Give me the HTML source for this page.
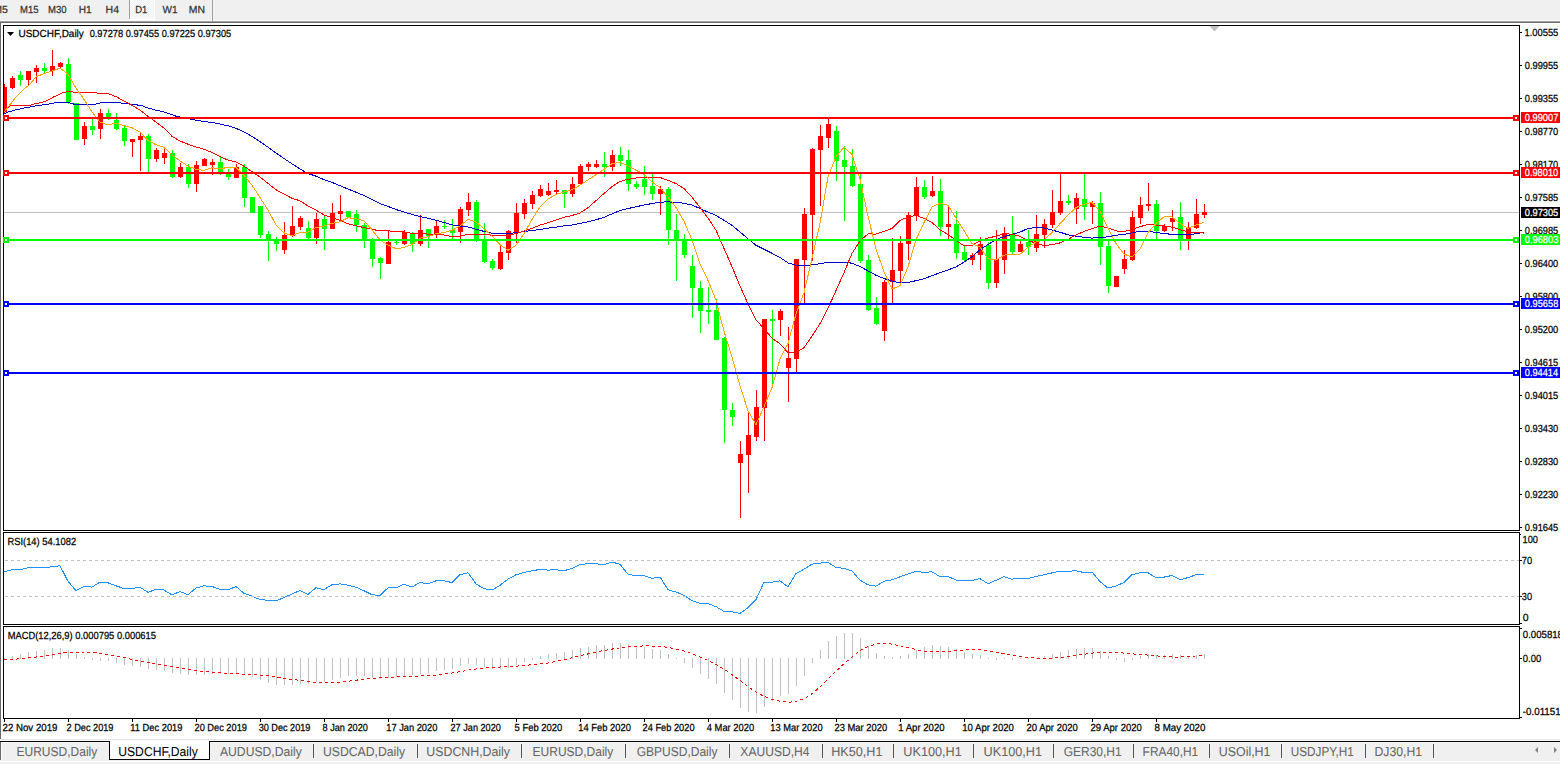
<!DOCTYPE html>
<html><head><meta charset="utf-8"><style>
html,body{margin:0;padding:0;background:#fff;width:1560px;height:764px;overflow:hidden}
svg{display:block}
text{font-family:"Liberation Sans",sans-serif;text-rendering:geometricPrecision}
</style></head><body>
<svg width="1560" height="764" viewBox="0 0 1560 764" font-family='"Liberation Sans", sans-serif'>
<defs><pattern id="chk" x="0" y="0" width="2" height="2" patternUnits="userSpaceOnUse"><rect width="2" height="2" fill="#f0f0f0"/><rect width="1" height="1" fill="#fdfdfd"/><rect x="1" y="1" width="1" height="1" fill="#fdfdfd"/></pattern></defs>
<rect x="0" y="0" width="1560" height="764" fill="#fff"/>
<rect x="0" y="0" width="1560" height="20" fill="#f0f0f0"/>
<rect x="0" y="20" width="1560" height="1" fill="#f6f6f6"/>
<rect x="0" y="21" width="1560" height="1" fill="#a3a3a3"/>
<rect x="0" y="22" width="1560" height="1" fill="#6a6a6a"/>
<rect x="130" y="0" width="24" height="19" fill="url(#chk)"/>
<rect x="129" y="0" width="1" height="19" fill="#a0a0a0"/>
<rect x="154" y="0" width="1" height="20" fill="#ffffff"/>
<rect x="129" y="19" width="26" height="1" fill="#ffffff"/>
<rect x="212" y="0" width="1" height="21" fill="#a0a0a0"/>
<text x="-6.86" y="13" font-size="10.3" fill="#333" stroke="#333" stroke-width="0.25" textLength="14.60" lengthAdjust="spacingAndGlyphs">M5</text>
<text x="20.02" y="13" font-size="10.3" fill="#333" stroke="#333" stroke-width="0.25" textLength="18.48" lengthAdjust="spacingAndGlyphs">M15</text>
<text x="48.02" y="13" font-size="10.3" fill="#333" stroke="#333" stroke-width="0.25" textLength="18.56" lengthAdjust="spacingAndGlyphs">M30</text>
<text x="78.77" y="13" font-size="10.3" fill="#333" stroke="#333" stroke-width="0.25" textLength="12.92" lengthAdjust="spacingAndGlyphs">H1</text>
<text x="105.64" y="13" font-size="10.3" fill="#333" stroke="#333" stroke-width="0.25" textLength="13.47" lengthAdjust="spacingAndGlyphs">H4</text>
<text x="135.22" y="13" font-size="10.3" fill="#333" stroke="#333" stroke-width="0.25" textLength="12.14" lengthAdjust="spacingAndGlyphs">D1</text>
<text x="162.46" y="13" font-size="10.3" fill="#333" stroke="#333" stroke-width="0.25" textLength="15.03" lengthAdjust="spacingAndGlyphs">W1</text>
<text x="188.85" y="13" font-size="10.3" fill="#333" stroke="#333" stroke-width="0.25" textLength="16.20" lengthAdjust="spacingAndGlyphs">MN</text>
<rect x="0" y="23" width="1" height="716" fill="#6a6a6a"/>
<rect x="1" y="23" width="1" height="716" fill="#ffffff"/>
<rect x="3" y="25" width="1517" height="1" fill="#000"/>
<rect x="3" y="530" width="1517" height="1" fill="#000"/>
<rect x="3" y="25" width="1" height="506" fill="#000"/>
<rect x="1519" y="25" width="1" height="506" fill="#000"/>
<rect x="3" y="532" width="1517" height="1" fill="#000"/>
<rect x="3" y="624" width="1517" height="1" fill="#000"/>
<rect x="3" y="532" width="1" height="93" fill="#000"/>
<rect x="1519" y="532" width="1" height="93" fill="#000"/>
<rect x="3" y="626" width="1517" height="1" fill="#000"/>
<rect x="3" y="718" width="1517" height="1" fill="#000"/>
<rect x="3" y="626" width="1" height="93" fill="#000"/>
<rect x="1519" y="626" width="1" height="93" fill="#000"/>
<rect x="1520" y="32" width="2" height="1" fill="#000"/>
<text x="1524.49" y="36" font-size="10.3" fill="#000" stroke="#000" stroke-width="0.25" textLength="33.81" lengthAdjust="spacingAndGlyphs">1.00555</text>
<rect x="1520" y="65" width="2" height="1" fill="#000"/>
<text x="1524.84" y="69" font-size="10.3" fill="#000" stroke="#000" stroke-width="0.25" textLength="33.45" lengthAdjust="spacingAndGlyphs">0.99955</text>
<rect x="1520" y="98" width="2" height="1" fill="#000"/>
<text x="1524.84" y="102" font-size="10.3" fill="#000" stroke="#000" stroke-width="0.25" textLength="33.45" lengthAdjust="spacingAndGlyphs">0.99355</text>
<rect x="1520" y="131" width="2" height="1" fill="#000"/>
<text x="1524.84" y="135" font-size="10.3" fill="#000" stroke="#000" stroke-width="0.25" textLength="33.42" lengthAdjust="spacingAndGlyphs">0.98770</text>
<rect x="1520" y="164" width="2" height="1" fill="#000"/>
<text x="1524.84" y="168" font-size="10.3" fill="#000" stroke="#000" stroke-width="0.25" textLength="33.42" lengthAdjust="spacingAndGlyphs">0.98170</text>
<rect x="1520" y="197" width="2" height="1" fill="#000"/>
<text x="1524.84" y="201" font-size="10.3" fill="#000" stroke="#000" stroke-width="0.25" textLength="33.45" lengthAdjust="spacingAndGlyphs">0.97585</text>
<rect x="1520" y="230" width="2" height="1" fill="#000"/>
<text x="1524.84" y="234" font-size="10.3" fill="#000" stroke="#000" stroke-width="0.25" textLength="33.45" lengthAdjust="spacingAndGlyphs">0.96985</text>
<rect x="1520" y="263" width="2" height="1" fill="#000"/>
<text x="1524.84" y="267" font-size="10.3" fill="#000" stroke="#000" stroke-width="0.25" textLength="33.42" lengthAdjust="spacingAndGlyphs">0.96400</text>
<rect x="1520" y="296" width="2" height="1" fill="#000"/>
<text x="1524.84" y="300" font-size="10.3" fill="#000" stroke="#000" stroke-width="0.25" textLength="33.42" lengthAdjust="spacingAndGlyphs">0.95800</text>
<rect x="1520" y="329" width="2" height="1" fill="#000"/>
<text x="1524.84" y="333" font-size="10.3" fill="#000" stroke="#000" stroke-width="0.25" textLength="33.42" lengthAdjust="spacingAndGlyphs">0.95200</text>
<rect x="1520" y="362" width="2" height="1" fill="#000"/>
<text x="1524.84" y="366" font-size="10.3" fill="#000" stroke="#000" stroke-width="0.25" textLength="33.45" lengthAdjust="spacingAndGlyphs">0.94615</text>
<rect x="1520" y="395" width="2" height="1" fill="#000"/>
<text x="1524.84" y="399" font-size="10.3" fill="#000" stroke="#000" stroke-width="0.25" textLength="33.45" lengthAdjust="spacingAndGlyphs">0.94015</text>
<rect x="1520" y="428" width="2" height="1" fill="#000"/>
<text x="1524.84" y="432" font-size="10.3" fill="#000" stroke="#000" stroke-width="0.25" textLength="33.42" lengthAdjust="spacingAndGlyphs">0.93430</text>
<rect x="1520" y="461" width="2" height="1" fill="#000"/>
<text x="1524.84" y="465" font-size="10.3" fill="#000" stroke="#000" stroke-width="0.25" textLength="33.42" lengthAdjust="spacingAndGlyphs">0.92830</text>
<rect x="1520" y="494" width="2" height="1" fill="#000"/>
<text x="1524.84" y="498" font-size="10.3" fill="#000" stroke="#000" stroke-width="0.25" textLength="33.42" lengthAdjust="spacingAndGlyphs">0.92230</text>
<rect x="1520" y="527" width="2" height="1" fill="#000"/>
<text x="1524.84" y="531" font-size="10.3" fill="#000" stroke="#000" stroke-width="0.25" textLength="33.45" lengthAdjust="spacingAndGlyphs">0.91645</text>
<rect x="4" y="212" width="1515" height="1" fill="#c0c0c0"/>
<rect x="1521" y="207" width="39" height="11" fill="#000"/>
<text x="1524.74" y="216" font-size="10.3" fill="#fff" stroke="#fff" stroke-width="0.25" textLength="33.55" lengthAdjust="spacingAndGlyphs">0.97305</text>
<g shape-rendering="crispEdges">
<rect x="4" y="84" width="1" height="29" fill="#ff0000"/>
<rect x="4" y="87" width="3" height="25" fill="#ff0000"/>
<rect x="12" y="76" width="1" height="13" fill="#ff0000"/>
<rect x="10" y="78" width="5" height="10" fill="#ff0000"/>
<rect x="20" y="71" width="1" height="15" fill="#00ff00"/>
<rect x="18" y="75" width="5" height="5" fill="#00ff00"/>
<rect x="28" y="71" width="1" height="15" fill="#ff0000"/>
<rect x="26" y="71" width="5" height="9" fill="#ff0000"/>
<rect x="36" y="65" width="1" height="18" fill="#ff0000"/>
<rect x="34" y="68" width="5" height="4" fill="#ff0000"/>
<rect x="44" y="63" width="1" height="11" fill="#00ff00"/>
<rect x="42" y="68" width="5" height="3" fill="#00ff00"/>
<rect x="52" y="50" width="1" height="26" fill="#ff0000"/>
<rect x="50" y="66" width="5" height="5" fill="#ff0000"/>
<rect x="60" y="62" width="1" height="6" fill="#ff0000"/>
<rect x="58" y="63" width="5" height="4" fill="#ff0000"/>
<rect x="68" y="58" width="1" height="46" fill="#00ff00"/>
<rect x="66" y="64" width="5" height="38" fill="#00ff00"/>
<rect x="76" y="103" width="1" height="37" fill="#00ff00"/>
<rect x="74" y="103" width="5" height="37" fill="#00ff00"/>
<rect x="84" y="122" width="1" height="23" fill="#ff0000"/>
<rect x="82" y="126" width="5" height="13" fill="#ff0000"/>
<rect x="92" y="119" width="1" height="16" fill="#00ff00"/>
<rect x="90" y="126" width="5" height="4" fill="#00ff00"/>
<rect x="100" y="109" width="1" height="30" fill="#ff0000"/>
<rect x="98" y="113" width="5" height="16" fill="#ff0000"/>
<rect x="108" y="109" width="1" height="11" fill="#00ff00"/>
<rect x="106" y="113" width="5" height="5" fill="#00ff00"/>
<rect x="116" y="113" width="1" height="17" fill="#00ff00"/>
<rect x="114" y="120" width="5" height="9" fill="#00ff00"/>
<rect x="124" y="125" width="1" height="21" fill="#00ff00"/>
<rect x="122" y="128" width="5" height="13" fill="#00ff00"/>
<rect x="132" y="139" width="1" height="18" fill="#ff0000"/>
<rect x="130" y="139" width="5" height="3" fill="#ff0000"/>
<rect x="140" y="132" width="1" height="39" fill="#ff0000"/>
<rect x="138" y="136" width="5" height="4" fill="#ff0000"/>
<rect x="148" y="134" width="1" height="38" fill="#00ff00"/>
<rect x="146" y="136" width="5" height="23" fill="#00ff00"/>
<rect x="156" y="148" width="1" height="14" fill="#ff0000"/>
<rect x="154" y="150" width="5" height="9" fill="#ff0000"/>
<rect x="164" y="148" width="1" height="16" fill="#ff0000"/>
<rect x="162" y="153" width="5" height="5" fill="#ff0000"/>
<rect x="172" y="150" width="1" height="28" fill="#00ff00"/>
<rect x="170" y="153" width="5" height="24" fill="#00ff00"/>
<rect x="180" y="163" width="1" height="15" fill="#ff0000"/>
<rect x="178" y="167" width="5" height="10" fill="#ff0000"/>
<rect x="188" y="164" width="1" height="24" fill="#00ff00"/>
<rect x="186" y="167" width="5" height="17" fill="#00ff00"/>
<rect x="196" y="161" width="1" height="31" fill="#ff0000"/>
<rect x="194" y="165" width="5" height="19" fill="#ff0000"/>
<rect x="204" y="158" width="1" height="8" fill="#ff0000"/>
<rect x="202" y="159" width="5" height="7" fill="#ff0000"/>
<rect x="212" y="159" width="1" height="16" fill="#ff0000"/>
<rect x="210" y="162" width="5" height="3" fill="#ff0000"/>
<rect x="220" y="157" width="1" height="18" fill="#00ff00"/>
<rect x="218" y="162" width="5" height="12" fill="#00ff00"/>
<rect x="228" y="169" width="1" height="11" fill="#00ff00"/>
<rect x="226" y="174" width="5" height="3" fill="#00ff00"/>
<rect x="236" y="164" width="1" height="14" fill="#ff0000"/>
<rect x="234" y="167" width="5" height="11" fill="#ff0000"/>
<rect x="244" y="164" width="1" height="43" fill="#00ff00"/>
<rect x="242" y="167" width="5" height="31" fill="#00ff00"/>
<rect x="252" y="197" width="1" height="16" fill="#00ff00"/>
<rect x="250" y="197" width="5" height="16" fill="#00ff00"/>
<rect x="260" y="206" width="1" height="32" fill="#00ff00"/>
<rect x="258" y="206" width="5" height="29" fill="#00ff00"/>
<rect x="268" y="231" width="1" height="30" fill="#00ff00"/>
<rect x="266" y="234" width="5" height="6" fill="#00ff00"/>
<rect x="276" y="237" width="1" height="14" fill="#00ff00"/>
<rect x="274" y="239" width="5" height="5" fill="#00ff00"/>
<rect x="284" y="222" width="1" height="32" fill="#ff0000"/>
<rect x="282" y="235" width="5" height="15" fill="#ff0000"/>
<rect x="292" y="206" width="1" height="31" fill="#ff0000"/>
<rect x="290" y="226" width="5" height="10" fill="#ff0000"/>
<rect x="300" y="216" width="1" height="14" fill="#ff0000"/>
<rect x="298" y="218" width="5" height="9" fill="#ff0000"/>
<rect x="308" y="221" width="1" height="19" fill="#00ff00"/>
<rect x="306" y="228" width="5" height="10" fill="#00ff00"/>
<rect x="316" y="213" width="1" height="31" fill="#ff0000"/>
<rect x="314" y="219" width="5" height="19" fill="#ff0000"/>
<rect x="324" y="215" width="1" height="35" fill="#00ff00"/>
<rect x="322" y="219" width="5" height="10" fill="#00ff00"/>
<rect x="332" y="203" width="1" height="26" fill="#ff0000"/>
<rect x="330" y="213" width="5" height="16" fill="#ff0000"/>
<rect x="340" y="195" width="1" height="27" fill="#ff0000"/>
<rect x="338" y="211" width="5" height="3" fill="#ff0000"/>
<rect x="348" y="211" width="1" height="7" fill="#00ff00"/>
<rect x="346" y="211" width="5" height="6" fill="#00ff00"/>
<rect x="356" y="210" width="1" height="22" fill="#00ff00"/>
<rect x="354" y="214" width="5" height="11" fill="#00ff00"/>
<rect x="364" y="223" width="1" height="25" fill="#00ff00"/>
<rect x="362" y="225" width="5" height="15" fill="#00ff00"/>
<rect x="372" y="238" width="1" height="29" fill="#00ff00"/>
<rect x="370" y="240" width="5" height="19" fill="#00ff00"/>
<rect x="380" y="257" width="1" height="22" fill="#00ff00"/>
<rect x="378" y="258" width="5" height="5" fill="#00ff00"/>
<rect x="388" y="231" width="1" height="33" fill="#ff0000"/>
<rect x="386" y="242" width="5" height="22" fill="#ff0000"/>
<rect x="396" y="240" width="1" height="5" fill="#00ff00"/>
<rect x="394" y="242" width="5" height="1" fill="#00ff00"/>
<rect x="404" y="230" width="1" height="15" fill="#ff0000"/>
<rect x="402" y="232" width="5" height="12" fill="#ff0000"/>
<rect x="412" y="232" width="1" height="20" fill="#00ff00"/>
<rect x="410" y="234" width="5" height="10" fill="#00ff00"/>
<rect x="420" y="215" width="1" height="31" fill="#ff0000"/>
<rect x="418" y="230" width="5" height="14" fill="#ff0000"/>
<rect x="428" y="229" width="1" height="19" fill="#00ff00"/>
<rect x="426" y="229" width="5" height="7" fill="#00ff00"/>
<rect x="436" y="220" width="1" height="18" fill="#ff0000"/>
<rect x="434" y="226" width="5" height="9" fill="#ff0000"/>
<rect x="444" y="220" width="1" height="9" fill="#00ff00"/>
<rect x="442" y="226" width="5" height="1" fill="#00ff00"/>
<rect x="452" y="219" width="1" height="21" fill="#00ff00"/>
<rect x="450" y="230" width="5" height="3" fill="#00ff00"/>
<rect x="460" y="207" width="1" height="36" fill="#ff0000"/>
<rect x="458" y="209" width="5" height="23" fill="#ff0000"/>
<rect x="468" y="193" width="1" height="23" fill="#ff0000"/>
<rect x="466" y="202" width="5" height="8" fill="#ff0000"/>
<rect x="476" y="200" width="1" height="42" fill="#00ff00"/>
<rect x="474" y="202" width="5" height="38" fill="#00ff00"/>
<rect x="484" y="223" width="1" height="40" fill="#00ff00"/>
<rect x="482" y="240" width="5" height="22" fill="#00ff00"/>
<rect x="492" y="259" width="1" height="11" fill="#00ff00"/>
<rect x="490" y="261" width="5" height="7" fill="#00ff00"/>
<rect x="500" y="246" width="1" height="24" fill="#ff0000"/>
<rect x="498" y="252" width="5" height="17" fill="#ff0000"/>
<rect x="508" y="230" width="1" height="30" fill="#ff0000"/>
<rect x="506" y="231" width="5" height="22" fill="#ff0000"/>
<rect x="516" y="203" width="1" height="40" fill="#ff0000"/>
<rect x="514" y="213" width="5" height="19" fill="#ff0000"/>
<rect x="524" y="199" width="1" height="20" fill="#ff0000"/>
<rect x="522" y="203" width="5" height="11" fill="#ff0000"/>
<rect x="532" y="191" width="1" height="18" fill="#ff0000"/>
<rect x="530" y="195" width="5" height="9" fill="#ff0000"/>
<rect x="540" y="185" width="1" height="12" fill="#ff0000"/>
<rect x="538" y="189" width="5" height="7" fill="#ff0000"/>
<rect x="548" y="183" width="1" height="13" fill="#ff0000"/>
<rect x="546" y="191" width="5" height="4" fill="#ff0000"/>
<rect x="556" y="180" width="1" height="14" fill="#ff0000"/>
<rect x="554" y="190" width="5" height="2" fill="#ff0000"/>
<rect x="564" y="190" width="1" height="18" fill="#00ff00"/>
<rect x="562" y="190" width="5" height="4" fill="#00ff00"/>
<rect x="572" y="177" width="1" height="20" fill="#ff0000"/>
<rect x="570" y="184" width="5" height="10" fill="#ff0000"/>
<rect x="580" y="164" width="1" height="21" fill="#ff0000"/>
<rect x="578" y="166" width="5" height="18" fill="#ff0000"/>
<rect x="588" y="162" width="1" height="9" fill="#ff0000"/>
<rect x="586" y="164" width="5" height="3" fill="#ff0000"/>
<rect x="596" y="160" width="1" height="8" fill="#ff0000"/>
<rect x="594" y="164" width="5" height="3" fill="#ff0000"/>
<rect x="604" y="152" width="1" height="25" fill="#00ff00"/>
<rect x="602" y="164" width="5" height="3" fill="#00ff00"/>
<rect x="612" y="150" width="1" height="21" fill="#ff0000"/>
<rect x="610" y="155" width="5" height="12" fill="#ff0000"/>
<rect x="620" y="147" width="1" height="19" fill="#00ff00"/>
<rect x="618" y="155" width="5" height="6" fill="#00ff00"/>
<rect x="628" y="150" width="1" height="41" fill="#00ff00"/>
<rect x="626" y="160" width="5" height="24" fill="#00ff00"/>
<rect x="636" y="181" width="1" height="8" fill="#00ff00"/>
<rect x="634" y="184" width="5" height="3" fill="#00ff00"/>
<rect x="644" y="166" width="1" height="29" fill="#00ff00"/>
<rect x="642" y="179" width="5" height="8" fill="#00ff00"/>
<rect x="652" y="174" width="1" height="26" fill="#00ff00"/>
<rect x="650" y="186" width="5" height="8" fill="#00ff00"/>
<rect x="660" y="186" width="1" height="29" fill="#ff0000"/>
<rect x="658" y="189" width="5" height="5" fill="#ff0000"/>
<rect x="668" y="187" width="1" height="58" fill="#00ff00"/>
<rect x="666" y="189" width="5" height="41" fill="#00ff00"/>
<rect x="676" y="214" width="1" height="67" fill="#00ff00"/>
<rect x="674" y="230" width="5" height="10" fill="#00ff00"/>
<rect x="684" y="234" width="1" height="24" fill="#00ff00"/>
<rect x="682" y="240" width="5" height="15" fill="#00ff00"/>
<rect x="692" y="255" width="1" height="63" fill="#00ff00"/>
<rect x="690" y="266" width="5" height="22" fill="#00ff00"/>
<rect x="700" y="281" width="1" height="52" fill="#00ff00"/>
<rect x="698" y="288" width="5" height="23" fill="#00ff00"/>
<rect x="708" y="287" width="1" height="37" fill="#00ff00"/>
<rect x="706" y="310" width="5" height="2" fill="#00ff00"/>
<rect x="716" y="299" width="1" height="41" fill="#00ff00"/>
<rect x="714" y="310" width="5" height="30" fill="#00ff00"/>
<rect x="724" y="337" width="1" height="106" fill="#00ff00"/>
<rect x="722" y="338" width="5" height="72" fill="#00ff00"/>
<rect x="732" y="403" width="1" height="23" fill="#00ff00"/>
<rect x="730" y="410" width="5" height="7" fill="#00ff00"/>
<rect x="740" y="441" width="1" height="77" fill="#ff0000"/>
<rect x="738" y="454" width="5" height="9" fill="#ff0000"/>
<rect x="748" y="412" width="1" height="81" fill="#ff0000"/>
<rect x="746" y="435" width="5" height="20" fill="#ff0000"/>
<rect x="756" y="390" width="1" height="51" fill="#ff0000"/>
<rect x="754" y="407" width="5" height="30" fill="#ff0000"/>
<rect x="764" y="319" width="1" height="122" fill="#ff0000"/>
<rect x="762" y="319" width="5" height="89" fill="#ff0000"/>
<rect x="772" y="310" width="1" height="75" fill="#00ff00"/>
<rect x="770" y="319" width="5" height="2" fill="#00ff00"/>
<rect x="780" y="309" width="1" height="27" fill="#ff0000"/>
<rect x="778" y="311" width="5" height="9" fill="#ff0000"/>
<rect x="788" y="327" width="1" height="75" fill="#ff0000"/>
<rect x="786" y="358" width="5" height="10" fill="#ff0000"/>
<rect x="796" y="259" width="1" height="113" fill="#ff0000"/>
<rect x="794" y="259" width="5" height="100" fill="#ff0000"/>
<rect x="804" y="208" width="1" height="95" fill="#ff0000"/>
<rect x="802" y="214" width="5" height="46" fill="#ff0000"/>
<rect x="812" y="148" width="1" height="113" fill="#ff0000"/>
<rect x="810" y="149" width="5" height="66" fill="#ff0000"/>
<rect x="820" y="125" width="1" height="81" fill="#ff0000"/>
<rect x="818" y="136" width="5" height="14" fill="#ff0000"/>
<rect x="828" y="119" width="1" height="29" fill="#ff0000"/>
<rect x="826" y="124" width="5" height="14" fill="#ff0000"/>
<rect x="836" y="126" width="1" height="55" fill="#00ff00"/>
<rect x="834" y="131" width="5" height="30" fill="#00ff00"/>
<rect x="844" y="146" width="1" height="75" fill="#00ff00"/>
<rect x="842" y="160" width="5" height="7" fill="#00ff00"/>
<rect x="852" y="149" width="1" height="38" fill="#00ff00"/>
<rect x="850" y="166" width="5" height="20" fill="#00ff00"/>
<rect x="860" y="174" width="1" height="89" fill="#00ff00"/>
<rect x="858" y="184" width="5" height="77" fill="#00ff00"/>
<rect x="868" y="255" width="1" height="56" fill="#00ff00"/>
<rect x="866" y="260" width="5" height="50" fill="#00ff00"/>
<rect x="876" y="297" width="1" height="28" fill="#00ff00"/>
<rect x="874" y="308" width="5" height="16" fill="#00ff00"/>
<rect x="884" y="280" width="1" height="61" fill="#ff0000"/>
<rect x="882" y="282" width="5" height="49" fill="#ff0000"/>
<rect x="892" y="238" width="1" height="65" fill="#ff0000"/>
<rect x="890" y="270" width="5" height="12" fill="#ff0000"/>
<rect x="900" y="236" width="1" height="47" fill="#ff0000"/>
<rect x="898" y="243" width="5" height="28" fill="#ff0000"/>
<rect x="908" y="212" width="1" height="48" fill="#ff0000"/>
<rect x="906" y="215" width="5" height="29" fill="#ff0000"/>
<rect x="916" y="177" width="1" height="44" fill="#ff0000"/>
<rect x="914" y="187" width="5" height="29" fill="#ff0000"/>
<rect x="924" y="180" width="1" height="19" fill="#00ff00"/>
<rect x="922" y="187" width="5" height="10" fill="#00ff00"/>
<rect x="932" y="176" width="1" height="21" fill="#ff0000"/>
<rect x="930" y="191" width="5" height="5" fill="#ff0000"/>
<rect x="940" y="179" width="1" height="57" fill="#00ff00"/>
<rect x="938" y="191" width="5" height="36" fill="#00ff00"/>
<rect x="948" y="206" width="1" height="33" fill="#ff0000"/>
<rect x="946" y="224" width="5" height="3" fill="#ff0000"/>
<rect x="956" y="211" width="1" height="48" fill="#00ff00"/>
<rect x="954" y="224" width="5" height="29" fill="#00ff00"/>
<rect x="964" y="246" width="1" height="15" fill="#00ff00"/>
<rect x="962" y="252" width="5" height="8" fill="#00ff00"/>
<rect x="972" y="253" width="1" height="12" fill="#ff0000"/>
<rect x="970" y="255" width="5" height="5" fill="#ff0000"/>
<rect x="980" y="237" width="1" height="33" fill="#ff0000"/>
<rect x="978" y="244" width="5" height="11" fill="#ff0000"/>
<rect x="988" y="242" width="1" height="47" fill="#00ff00"/>
<rect x="986" y="245" width="5" height="38" fill="#00ff00"/>
<rect x="996" y="230" width="1" height="58" fill="#ff0000"/>
<rect x="994" y="259" width="5" height="24" fill="#ff0000"/>
<rect x="1004" y="227" width="1" height="47" fill="#ff0000"/>
<rect x="1002" y="233" width="5" height="27" fill="#ff0000"/>
<rect x="1012" y="216" width="1" height="38" fill="#00ff00"/>
<rect x="1010" y="235" width="5" height="17" fill="#00ff00"/>
<rect x="1020" y="241" width="1" height="11" fill="#ff0000"/>
<rect x="1018" y="244" width="5" height="8" fill="#ff0000"/>
<rect x="1028" y="230" width="1" height="25" fill="#00ff00"/>
<rect x="1026" y="242" width="5" height="5" fill="#00ff00"/>
<rect x="1036" y="215" width="1" height="37" fill="#ff0000"/>
<rect x="1034" y="234" width="5" height="14" fill="#ff0000"/>
<rect x="1044" y="219" width="1" height="29" fill="#ff0000"/>
<rect x="1042" y="224" width="5" height="11" fill="#ff0000"/>
<rect x="1052" y="190" width="1" height="38" fill="#ff0000"/>
<rect x="1050" y="212" width="5" height="13" fill="#ff0000"/>
<rect x="1060" y="174" width="1" height="41" fill="#ff0000"/>
<rect x="1058" y="201" width="5" height="12" fill="#ff0000"/>
<rect x="1068" y="195" width="1" height="10" fill="#00ff00"/>
<rect x="1066" y="201" width="5" height="2" fill="#00ff00"/>
<rect x="1076" y="193" width="1" height="31" fill="#ff0000"/>
<rect x="1074" y="198" width="5" height="11" fill="#ff0000"/>
<rect x="1084" y="174" width="1" height="46" fill="#00ff00"/>
<rect x="1082" y="199" width="5" height="8" fill="#00ff00"/>
<rect x="1092" y="201" width="1" height="23" fill="#ff0000"/>
<rect x="1090" y="203" width="5" height="4" fill="#ff0000"/>
<rect x="1100" y="192" width="1" height="73" fill="#00ff00"/>
<rect x="1098" y="203" width="5" height="44" fill="#00ff00"/>
<rect x="1108" y="241" width="1" height="52" fill="#00ff00"/>
<rect x="1106" y="246" width="5" height="40" fill="#00ff00"/>
<rect x="1116" y="276" width="1" height="11" fill="#ff0000"/>
<rect x="1114" y="276" width="5" height="11" fill="#ff0000"/>
<rect x="1124" y="250" width="1" height="24" fill="#ff0000"/>
<rect x="1122" y="259" width="5" height="10" fill="#ff0000"/>
<rect x="1132" y="211" width="1" height="50" fill="#ff0000"/>
<rect x="1130" y="217" width="5" height="43" fill="#ff0000"/>
<rect x="1140" y="197" width="1" height="27" fill="#ff0000"/>
<rect x="1138" y="205" width="5" height="13" fill="#ff0000"/>
<rect x="1148" y="183" width="1" height="28" fill="#ff0000"/>
<rect x="1146" y="204" width="5" height="2" fill="#ff0000"/>
<rect x="1156" y="200" width="1" height="39" fill="#00ff00"/>
<rect x="1154" y="204" width="5" height="27" fill="#00ff00"/>
<rect x="1164" y="224" width="1" height="8" fill="#ff0000"/>
<rect x="1162" y="226" width="5" height="5" fill="#ff0000"/>
<rect x="1172" y="210" width="1" height="21" fill="#ff0000"/>
<rect x="1170" y="218" width="5" height="4" fill="#ff0000"/>
<rect x="1180" y="202" width="1" height="48" fill="#00ff00"/>
<rect x="1178" y="217" width="5" height="23" fill="#00ff00"/>
<rect x="1188" y="222" width="1" height="28" fill="#ff0000"/>
<rect x="1186" y="228" width="5" height="11" fill="#ff0000"/>
<rect x="1196" y="199" width="1" height="30" fill="#ff0000"/>
<rect x="1194" y="214" width="5" height="14" fill="#ff0000"/>
<rect x="1204" y="204" width="1" height="14" fill="#ff0000"/>
<rect x="1202" y="212" width="5" height="3" fill="#ff0000"/>
</g>
<polygon points="1209.5,26 1219.5,26 1214.5,31.5" fill="#c0c0c0"/>
<polygon points="7,32 14,32 10.5,36" fill="#000"/>
<text x="18.44" y="37" font-size="10.3" fill="#000" stroke="#000" stroke-width="0.25" textLength="65.38" lengthAdjust="spacingAndGlyphs">USDCHF,Daily</text>
<text x="89.64" y="37" font-size="10.3" fill="#000" stroke="#000" stroke-width="0.25" textLength="141.55" lengthAdjust="spacingAndGlyphs">0.97278 0.97455 0.97225 0.97305</text>
<g fill="none" stroke-width="1" shape-rendering="crispEdges">
<polyline points="3.8,114.1 7.6,112.2 11.4,111.1 15.2,109.9 19.7,109.0 24.3,108.0 30.3,107.0 34.1,106.1 39.5,105.4 45.5,104.5 50.0,103.8 56.9,102.5 69.2,102.5 71.5,103.5 75.4,104.5 95.4,104.5 96.9,103.5 104.1,102.5 120.5,102.5 121.5,103.3 128.7,103.3 129.7,104.4 136.9,104.4 137.9,105.4 142.0,105.4 145.1,107.2 150.3,108.5 155.4,110.0 161.5,111.3 166.7,112.8 171.8,114.6 176.9,116.5 179.0,116.9 191.3,119.2 196.4,120.3 202.6,121.3 210.8,122.3 216.9,123.3 223.1,124.9 229.2,126.1 236.0,128.3 244.0,131.9 252.0,136.4 260.0,141.6 268.0,147.2 276.0,153.0 284.0,158.5 292.0,163.8 300.0,169.0 308.0,173.5 316.0,176.2 324.0,179.6 332.0,182.4 340.0,185.7 348.0,189.0 356.0,192.2 364.0,195.5 372.0,199.4 380.0,203.6 388.0,206.4 396.0,209.5 404.0,212.1 412.0,214.4 420.0,216.5 428.0,218.2 436.0,220.2 444.0,222.5 452.0,224.8 460.0,226.0 468.0,226.9 476.0,229.3 484.0,231.4 492.0,233.2 500.0,233.9 508.0,233.6 516.0,232.6 524.0,231.6 532.0,230.5 540.0,229.6 548.0,228.1 556.0,227.1 564.0,225.9 572.0,225.0 580.0,223.5 588.0,221.8 596.0,219.8 604.0,217.3 612.0,213.9 620.0,210.5 628.0,208.6 636.0,206.7 644.0,205.1 652.0,203.5 660.0,202.1 668.0,201.9 676.0,202.3 684.0,203.3 692.0,205.1 700.0,208.5 708.0,212.1 716.0,215.4 724.0,220.3 732.0,225.3 740.0,232.0 748.0,238.8 756.0,245.3 764.0,249.2 772.0,253.3 780.0,257.4 788.0,262.9 796.0,265.2 804.0,265.9 812.0,264.8 820.0,263.7 828.0,262.4 836.0,262.2 844.0,262.2 852.0,263.2 860.0,266.6 868.0,270.8 876.0,275.3 884.0,278.5 892.0,281.1 900.0,282.9 908.0,282.4 916.0,280.7 924.0,278.8 932.0,275.6 940.0,272.8 948.0,269.9 956.0,267.0 964.0,262.0 972.0,256.7 980.0,249.7 988.0,244.5 996.0,239.6 1004.0,236.7 1012.0,234.4 1020.0,232.2 1028.0,228.4 1036.0,227.6 1044.0,228.0 1052.0,230.1 1060.0,232.2 1068.0,234.8 1076.0,236.1 1084.0,237.4 1092.0,238.1 1100.0,237.6 1108.0,236.8 1116.0,235.2 1124.0,234.4 1132.0,232.7 1140.0,231.4 1148.0,231.1 1156.0,232.5 1164.0,233.5 1172.0,234.4 1180.0,234.8 1188.0,234.9 1196.0,233.7 1204.0,232.1" stroke="#0000cd"/>
<polyline points="4.0,112.3 9.9,105.4 30.0,105.4 34.1,104.0 38.7,103.1 42.5,102.2 47.0,100.7 50.0,98.9 53.8,96.9 57.7,95.4 61.5,93.1 66.2,91.9 72.3,91.5 73.8,92.3 96.2,92.3 97.7,93.5 108.0,93.7 116.0,96.6 124.0,101.0 132.0,105.3 140.0,110.0 148.0,116.4 156.0,122.0 164.0,128.2 172.0,136.3 180.0,141.0 188.0,144.2 196.0,147.0 204.0,149.2 212.0,152.6 220.0,156.7 228.0,160.1 236.0,162.1 244.0,166.2 252.0,171.6 260.0,177.0 268.0,183.4 276.0,189.8 284.0,194.0 292.0,198.3 300.0,200.8 308.0,205.9 316.0,210.2 324.0,214.9 332.0,217.7 340.0,220.2 348.0,223.7 356.0,225.7 364.0,227.6 372.0,229.3 380.0,230.9 388.0,230.9 396.0,231.4 404.0,231.8 412.0,233.5 420.0,233.0 428.0,234.2 436.0,234.1 444.0,235.0 452.0,236.5 460.0,236.0 468.0,234.5 476.0,234.5 484.0,234.7 492.0,235.1 500.0,235.8 508.0,235.0 516.0,233.7 524.0,230.9 532.0,228.4 540.0,225.1 548.0,222.7 556.0,220.1 564.0,217.2 572.0,215.5 580.0,212.9 588.0,207.6 596.0,200.7 604.0,193.5 612.0,186.6 620.0,181.5 628.0,179.3 636.0,178.0 644.0,177.4 652.0,177.6 660.0,177.5 668.0,180.3 676.0,183.6 684.0,188.6 692.0,197.2 700.0,207.5 708.0,218.0 716.0,230.3 724.0,248.4 732.0,266.7 740.0,286.1 748.0,303.9 756.0,319.7 764.0,328.8 772.0,338.1 780.0,343.9 788.0,352.5 796.0,352.8 804.0,347.6 812.0,336.1 820.0,323.6 828.0,308.3 836.0,290.6 844.0,272.7 852.0,253.4 860.0,240.9 868.0,233.9 876.0,234.1 884.0,231.4 892.0,228.5 900.0,220.3 908.0,217.1 916.0,215.2 924.0,218.6 932.0,222.5 940.0,229.8 948.0,234.4 956.0,240.5 964.0,245.8 972.0,245.5 980.0,240.8 988.0,237.9 996.0,236.3 1004.0,233.7 1012.0,234.2 1020.0,236.3 1028.0,240.5 1036.0,243.2 1044.0,245.6 1052.0,244.6 1060.0,242.9 1068.0,239.4 1076.0,235.0 1084.0,231.5 1092.0,228.6 1100.0,226.0 1108.0,227.9 1116.0,230.9 1124.0,231.5 1132.0,229.6 1140.0,226.7 1148.0,224.5 1156.0,225.0 1164.0,225.9 1172.0,227.1 1180.0,229.7 1188.0,231.9 1196.0,232.4 1204.0,233.1" stroke="#ff0000"/>
<polyline points="3.8,112.4 9.9,104.8 15.9,97.2 25.0,88.1 28.8,85.4 36.0,76.9 44.0,73.5 52.0,71.1 60.0,68.1 68.0,74.1 76.0,88.2 84.0,99.4 92.0,111.9 100.0,122.0 108.0,125.0 116.0,122.9 124.0,125.6 132.0,127.7 140.0,132.2 148.0,140.4 156.0,144.8 164.0,147.4 172.0,154.8 180.0,161.0 188.0,166.1 196.0,169.3 204.0,170.5 212.0,167.7 220.0,168.8 228.0,167.4 236.0,167.7 244.0,175.3 252.0,185.2 260.0,197.5 268.0,210.0 276.0,225.1 284.0,232.8 292.0,235.8 300.0,232.5 308.0,232.2 316.0,227.5 324.0,226.0 332.0,223.3 340.0,221.9 348.0,217.7 356.0,218.7 364.0,220.8 372.0,229.8 380.0,239.9 388.0,245.1 396.0,248.7 404.0,247.5 412.0,244.5 420.0,238.2 428.0,236.8 436.0,233.7 444.0,232.5 452.0,230.3 460.0,226.1 468.0,219.4 476.0,221.9 484.0,228.8 492.0,235.8 500.0,244.6 508.0,250.4 516.0,245.3 524.0,233.8 532.0,219.5 540.0,206.9 548.0,199.0 556.0,194.3 564.0,192.1 572.0,189.8 580.0,185.2 588.0,179.8 596.0,174.7 604.0,169.4 612.0,163.6 620.0,162.3 628.0,165.9 636.0,170.3 644.0,174.3 652.0,181.8 660.0,187.7 668.0,197.0 676.0,207.6 684.0,221.2 692.0,240.0 700.0,264.0 708.0,280.4 716.0,300.3 724.0,331.2 732.0,357.1 740.0,385.9 748.0,410.8 756.0,424.6 764.0,406.8 772.0,387.6 780.0,359.0 788.0,343.5 796.0,313.9 804.0,292.7 812.0,258.5 820.0,223.5 828.0,176.7 836.0,156.9 844.0,147.3 852.0,154.4 860.0,179.2 868.0,216.2 876.0,248.8 884.0,272.0 892.0,289.1 900.0,285.7 908.0,267.0 916.0,239.8 924.0,222.6 932.0,206.8 940.0,203.4 948.0,205.2 956.0,218.1 964.0,230.6 972.0,243.5 980.0,247.1 988.0,258.6 996.0,260.1 1004.0,255.1 1012.0,254.2 1020.0,254.2 1028.0,247.1 1036.0,242.0 1044.0,240.1 1052.0,232.4 1060.0,223.7 1068.0,215.0 1076.0,207.7 1084.0,204.2 1092.0,202.3 1100.0,211.3 1108.0,227.9 1116.0,243.5 1124.0,254.1 1132.0,257.0 1140.0,248.9 1148.0,232.7 1156.0,223.5 1164.0,216.8 1172.0,216.9 1180.0,223.6 1188.0,228.3 1196.0,225.1 1204.0,222.4" stroke="#ffa500"/>
</g>
<rect x="4" y="117" width="1515" height="2" fill="#ff0000"/>
<rect x="3" y="115" width="6" height="6" fill="#ff0000"/>
<rect x="5" y="117" width="2" height="2" fill="#fff"/>
<rect x="1513" y="115" width="6" height="6" fill="#ff0000"/>
<rect x="1515" y="117" width="2" height="2" fill="#fff"/>
<rect x="1521" y="112" width="39" height="11" fill="#ff0000"/>
<text x="1524.74" y="121" font-size="10.3" fill="#fff" stroke="#fff" stroke-width="0.25" textLength="33.63" lengthAdjust="spacingAndGlyphs">0.99007</text>
<rect x="4" y="172" width="1515" height="2" fill="#ff0000"/>
<rect x="3" y="170" width="6" height="6" fill="#ff0000"/>
<rect x="5" y="172" width="2" height="2" fill="#fff"/>
<rect x="1513" y="170" width="6" height="6" fill="#ff0000"/>
<rect x="1515" y="172" width="2" height="2" fill="#fff"/>
<rect x="1521" y="167" width="39" height="11" fill="#ff0000"/>
<text x="1524.74" y="176" font-size="10.3" fill="#fff" stroke="#fff" stroke-width="0.25" textLength="33.52" lengthAdjust="spacingAndGlyphs">0.98010</text>
<rect x="4" y="239" width="1515" height="2" fill="#00ff00"/>
<rect x="3" y="237" width="6" height="6" fill="#00ff00"/>
<rect x="5" y="239" width="2" height="2" fill="#fff"/>
<rect x="1513" y="237" width="6" height="6" fill="#00ff00"/>
<rect x="1515" y="239" width="2" height="2" fill="#fff"/>
<rect x="1521" y="234" width="39" height="11" fill="#00ff00"/>
<text x="1524.74" y="243" font-size="10.3" fill="#fff" stroke="#fff" stroke-width="0.25" textLength="33.57" lengthAdjust="spacingAndGlyphs">0.96803</text>
<rect x="4" y="303" width="1515" height="2" fill="#0000ff"/>
<rect x="3" y="301" width="6" height="6" fill="#0000ff"/>
<rect x="5" y="303" width="2" height="2" fill="#fff"/>
<rect x="1513" y="301" width="6" height="6" fill="#0000ff"/>
<rect x="1515" y="303" width="2" height="2" fill="#fff"/>
<rect x="1521" y="298" width="39" height="11" fill="#0000ff"/>
<text x="1524.74" y="307" font-size="10.3" fill="#fff" stroke="#fff" stroke-width="0.25" textLength="33.57" lengthAdjust="spacingAndGlyphs">0.95658</text>
<rect x="4" y="372" width="1515" height="2" fill="#0000ff"/>
<rect x="3" y="370" width="6" height="6" fill="#0000ff"/>
<rect x="5" y="372" width="2" height="2" fill="#fff"/>
<rect x="1513" y="370" width="6" height="6" fill="#0000ff"/>
<rect x="1515" y="372" width="2" height="2" fill="#fff"/>
<rect x="1521" y="367" width="39" height="11" fill="#0000ff"/>
<text x="1524.74" y="376" font-size="10.3" fill="#fff" stroke="#fff" stroke-width="0.25" textLength="33.43" lengthAdjust="spacingAndGlyphs">0.94414</text>
<polyline points="4,572.0 12,569.6 20,569.8 28,567.7 36,567.0 44,567.9 52,566.7 60,565.8 68,581.3 76,590.7 84,586.5 92,587.1 100,582.0 108,582.8 116,585.8 124,588.6 132,588.5 140,587.2 148,592.4 156,589.2 164,590.0 172,595.0 180,591.5 188,594.7 196,588.1 204,585.8 212,586.5 220,589.3 228,590.0 236,586.5 244,593.3 252,596.1 260,599.6 268,600.3 276,600.8 284,597.6 292,594.0 300,590.5 308,594.4 316,587.7 324,589.7 332,584.6 340,583.9 348,585.2 356,587.3 364,590.8 372,594.7 380,595.5 388,587.8 396,587.9 404,584.2 412,587.0 420,582.4 428,583.9 436,580.8 444,580.7 452,582.6 460,574.7 468,572.7 476,583.8 484,588.7 492,590.0 500,585.3 508,579.1 516,574.8 524,572.5 532,570.8 540,569.4 548,570.1 556,569.7 564,570.7 572,568.5 580,564.3 588,563.8 596,563.8 604,564.6 612,561.9 620,564.4 628,574.3 636,575.6 644,575.6 652,578.4 660,577.0 668,589.8 676,592.0 684,595.3 692,600.6 700,603.5 708,603.6 716,606.6 724,611.4 732,611.8 740,613.5 748,607.6 756,599.7 764,582.2 772,582.2 780,580.8 788,587.0 796,573.6 804,569.2 812,564.1 820,563.1 828,562.3 836,567.5 844,568.3 852,571.0 860,580.1 868,584.8 876,586.1 884,581.2 892,579.8 900,576.8 908,573.9 916,571.2 924,572.4 932,571.8 940,576.6 948,576.4 956,580.0 964,580.9 972,580.4 980,578.6 988,583.8 996,580.3 1004,576.6 1012,579.2 1020,578.1 1028,578.4 1036,576.5 1044,574.8 1052,572.9 1060,571.1 1068,571.4 1076,570.7 1084,572.6 1092,572.1 1100,581.6 1108,588.1 1116,586.1 1124,582.4 1132,574.7 1140,572.8 1148,572.7 1156,577.8 1164,577.1 1172,575.5 1180,579.7 1188,577.6 1196,574.8 1204,574.5" fill="none" stroke="#1e90ff" stroke-width="1" shape-rendering="crispEdges"/>
<g shape-rendering="crispEdges">
<rect x="4" y="658" width="1" height="2" fill="#c0c0c0"/>
<rect x="12" y="656" width="1" height="3" fill="#c0c0c0"/>
<rect x="20" y="654" width="1" height="5" fill="#c0c0c0"/>
<rect x="28" y="652" width="1" height="7" fill="#c0c0c0"/>
<rect x="36" y="651" width="1" height="8" fill="#c0c0c0"/>
<rect x="44" y="650" width="1" height="9" fill="#c0c0c0"/>
<rect x="52" y="648" width="1" height="11" fill="#c0c0c0"/>
<rect x="60" y="648" width="1" height="11" fill="#c0c0c0"/>
<rect x="68" y="650" width="1" height="9" fill="#c0c0c0"/>
<rect x="76" y="654" width="1" height="5" fill="#c0c0c0"/>
<rect x="84" y="657" width="1" height="2" fill="#c0c0c0"/>
<rect x="92" y="658" width="1" height="2" fill="#c0c0c0"/>
<rect x="100" y="658" width="1" height="3" fill="#c0c0c0"/>
<rect x="108" y="658" width="1" height="3" fill="#c0c0c0"/>
<rect x="116" y="658" width="1" height="5" fill="#c0c0c0"/>
<rect x="124" y="658" width="1" height="7" fill="#c0c0c0"/>
<rect x="132" y="658" width="1" height="8" fill="#c0c0c0"/>
<rect x="140" y="658" width="1" height="9" fill="#c0c0c0"/>
<rect x="148" y="658" width="1" height="11" fill="#c0c0c0"/>
<rect x="156" y="658" width="1" height="12" fill="#c0c0c0"/>
<rect x="164" y="658" width="1" height="13" fill="#c0c0c0"/>
<rect x="172" y="658" width="1" height="15" fill="#c0c0c0"/>
<rect x="180" y="658" width="1" height="16" fill="#c0c0c0"/>
<rect x="188" y="658" width="1" height="17" fill="#c0c0c0"/>
<rect x="196" y="658" width="1" height="17" fill="#c0c0c0"/>
<rect x="204" y="658" width="1" height="17" fill="#c0c0c0"/>
<rect x="212" y="658" width="1" height="16" fill="#c0c0c0"/>
<rect x="220" y="658" width="1" height="16" fill="#c0c0c0"/>
<rect x="228" y="658" width="1" height="16" fill="#c0c0c0"/>
<rect x="236" y="658" width="1" height="16" fill="#c0c0c0"/>
<rect x="244" y="658" width="1" height="17" fill="#c0c0c0"/>
<rect x="252" y="658" width="1" height="19" fill="#c0c0c0"/>
<rect x="260" y="658" width="1" height="22" fill="#c0c0c0"/>
<rect x="268" y="658" width="1" height="25" fill="#c0c0c0"/>
<rect x="276" y="658" width="1" height="27" fill="#c0c0c0"/>
<rect x="284" y="658" width="1" height="27" fill="#c0c0c0"/>
<rect x="292" y="658" width="1" height="27" fill="#c0c0c0"/>
<rect x="300" y="658" width="1" height="26" fill="#c0c0c0"/>
<rect x="308" y="658" width="1" height="26" fill="#c0c0c0"/>
<rect x="316" y="658" width="1" height="24" fill="#c0c0c0"/>
<rect x="324" y="658" width="1" height="24" fill="#c0c0c0"/>
<rect x="332" y="658" width="1" height="22" fill="#c0c0c0"/>
<rect x="340" y="658" width="1" height="20" fill="#c0c0c0"/>
<rect x="348" y="658" width="1" height="18" fill="#c0c0c0"/>
<rect x="356" y="658" width="1" height="18" fill="#c0c0c0"/>
<rect x="364" y="658" width="1" height="18" fill="#c0c0c0"/>
<rect x="372" y="658" width="1" height="20" fill="#c0c0c0"/>
<rect x="380" y="658" width="1" height="21" fill="#c0c0c0"/>
<rect x="388" y="658" width="1" height="20" fill="#c0c0c0"/>
<rect x="396" y="658" width="1" height="19" fill="#c0c0c0"/>
<rect x="404" y="658" width="1" height="18" fill="#c0c0c0"/>
<rect x="412" y="658" width="1" height="17" fill="#c0c0c0"/>
<rect x="420" y="658" width="1" height="16" fill="#c0c0c0"/>
<rect x="428" y="658" width="1" height="15" fill="#c0c0c0"/>
<rect x="436" y="658" width="1" height="13" fill="#c0c0c0"/>
<rect x="444" y="658" width="1" height="12" fill="#c0c0c0"/>
<rect x="452" y="658" width="1" height="11" fill="#c0c0c0"/>
<rect x="460" y="658" width="1" height="8" fill="#c0c0c0"/>
<rect x="468" y="658" width="1" height="6" fill="#c0c0c0"/>
<rect x="476" y="658" width="1" height="7" fill="#c0c0c0"/>
<rect x="484" y="658" width="1" height="9" fill="#c0c0c0"/>
<rect x="492" y="658" width="1" height="11" fill="#c0c0c0"/>
<rect x="500" y="658" width="1" height="11" fill="#c0c0c0"/>
<rect x="508" y="658" width="1" height="10" fill="#c0c0c0"/>
<rect x="516" y="658" width="1" height="7" fill="#c0c0c0"/>
<rect x="524" y="658" width="1" height="4" fill="#c0c0c0"/>
<rect x="532" y="658" width="1" height="2" fill="#c0c0c0"/>
<rect x="540" y="656" width="1" height="3" fill="#c0c0c0"/>
<rect x="548" y="654" width="1" height="5" fill="#c0c0c0"/>
<rect x="556" y="653" width="1" height="6" fill="#c0c0c0"/>
<rect x="564" y="652" width="1" height="7" fill="#c0c0c0"/>
<rect x="572" y="650" width="1" height="9" fill="#c0c0c0"/>
<rect x="580" y="648" width="1" height="11" fill="#c0c0c0"/>
<rect x="588" y="647" width="1" height="12" fill="#c0c0c0"/>
<rect x="596" y="645" width="1" height="14" fill="#c0c0c0"/>
<rect x="604" y="645" width="1" height="14" fill="#c0c0c0"/>
<rect x="612" y="643" width="1" height="16" fill="#c0c0c0"/>
<rect x="620" y="643" width="1" height="16" fill="#c0c0c0"/>
<rect x="628" y="644" width="1" height="15" fill="#c0c0c0"/>
<rect x="636" y="646" width="1" height="13" fill="#c0c0c0"/>
<rect x="644" y="647" width="1" height="12" fill="#c0c0c0"/>
<rect x="652" y="649" width="1" height="10" fill="#c0c0c0"/>
<rect x="660" y="650" width="1" height="9" fill="#c0c0c0"/>
<rect x="668" y="654" width="1" height="5" fill="#c0c0c0"/>
<rect x="676" y="658" width="1" height="1" fill="#c0c0c0"/>
<rect x="684" y="658" width="1" height="5" fill="#c0c0c0"/>
<rect x="692" y="658" width="1" height="10" fill="#c0c0c0"/>
<rect x="700" y="658" width="1" height="16" fill="#c0c0c0"/>
<rect x="708" y="658" width="1" height="21" fill="#c0c0c0"/>
<rect x="716" y="658" width="1" height="26" fill="#c0c0c0"/>
<rect x="724" y="658" width="1" height="35" fill="#c0c0c0"/>
<rect x="732" y="658" width="1" height="42" fill="#c0c0c0"/>
<rect x="740" y="658" width="1" height="50" fill="#c0c0c0"/>
<rect x="748" y="658" width="1" height="54" fill="#c0c0c0"/>
<rect x="756" y="658" width="1" height="55" fill="#c0c0c0"/>
<rect x="764" y="658" width="1" height="49" fill="#c0c0c0"/>
<rect x="772" y="658" width="1" height="43" fill="#c0c0c0"/>
<rect x="780" y="658" width="1" height="38" fill="#c0c0c0"/>
<rect x="788" y="658" width="1" height="36" fill="#c0c0c0"/>
<rect x="796" y="658" width="1" height="28" fill="#c0c0c0"/>
<rect x="804" y="658" width="1" height="18" fill="#c0c0c0"/>
<rect x="812" y="658" width="1" height="5" fill="#c0c0c0"/>
<rect x="820" y="650" width="1" height="9" fill="#c0c0c0"/>
<rect x="828" y="641" width="1" height="18" fill="#c0c0c0"/>
<rect x="836" y="636" width="1" height="23" fill="#c0c0c0"/>
<rect x="844" y="633" width="1" height="26" fill="#c0c0c0"/>
<rect x="852" y="633" width="1" height="26" fill="#c0c0c0"/>
<rect x="860" y="638" width="1" height="21" fill="#c0c0c0"/>
<rect x="868" y="646" width="1" height="13" fill="#c0c0c0"/>
<rect x="876" y="653" width="1" height="6" fill="#c0c0c0"/>
<rect x="884" y="656" width="1" height="3" fill="#c0c0c0"/>
<rect x="892" y="657" width="1" height="2" fill="#c0c0c0"/>
<rect x="900" y="656" width="1" height="3" fill="#c0c0c0"/>
<rect x="908" y="654" width="1" height="5" fill="#c0c0c0"/>
<rect x="916" y="650" width="1" height="9" fill="#c0c0c0"/>
<rect x="924" y="647" width="1" height="12" fill="#c0c0c0"/>
<rect x="932" y="645" width="1" height="14" fill="#c0c0c0"/>
<rect x="940" y="646" width="1" height="13" fill="#c0c0c0"/>
<rect x="948" y="647" width="1" height="12" fill="#c0c0c0"/>
<rect x="956" y="649" width="1" height="10" fill="#c0c0c0"/>
<rect x="964" y="652" width="1" height="7" fill="#c0c0c0"/>
<rect x="972" y="654" width="1" height="5" fill="#c0c0c0"/>
<rect x="980" y="655" width="1" height="4" fill="#c0c0c0"/>
<rect x="988" y="658" width="1" height="1" fill="#c0c0c0"/>
<rect x="996" y="658" width="1" height="2" fill="#c0c0c0"/>
<rect x="1004" y="658" width="1" height="1" fill="#c0c0c0"/>
<rect x="1012" y="658" width="1" height="2" fill="#c0c0c0"/>
<rect x="1020" y="658" width="1" height="1" fill="#c0c0c0"/>
<rect x="1028" y="658" width="1" height="1" fill="#c0c0c0"/>
<rect x="1036" y="658" width="1" height="1" fill="#c0c0c0"/>
<rect x="1044" y="656" width="1" height="3" fill="#c0c0c0"/>
<rect x="1052" y="654" width="1" height="5" fill="#c0c0c0"/>
<rect x="1060" y="652" width="1" height="7" fill="#c0c0c0"/>
<rect x="1068" y="650" width="1" height="9" fill="#c0c0c0"/>
<rect x="1076" y="649" width="1" height="10" fill="#c0c0c0"/>
<rect x="1084" y="648" width="1" height="11" fill="#c0c0c0"/>
<rect x="1092" y="648" width="1" height="11" fill="#c0c0c0"/>
<rect x="1100" y="651" width="1" height="8" fill="#c0c0c0"/>
<rect x="1108" y="656" width="1" height="3" fill="#c0c0c0"/>
<rect x="1116" y="658" width="1" height="2" fill="#c0c0c0"/>
<rect x="1124" y="658" width="1" height="4" fill="#c0c0c0"/>
<rect x="1132" y="658" width="1" height="2" fill="#c0c0c0"/>
<rect x="1140" y="656" width="1" height="3" fill="#c0c0c0"/>
<rect x="1148" y="654" width="1" height="5" fill="#c0c0c0"/>
<rect x="1156" y="655" width="1" height="4" fill="#c0c0c0"/>
<rect x="1164" y="655" width="1" height="4" fill="#c0c0c0"/>
<rect x="1172" y="654" width="1" height="5" fill="#c0c0c0"/>
<rect x="1180" y="655" width="1" height="4" fill="#c0c0c0"/>
<rect x="1188" y="656" width="1" height="3" fill="#c0c0c0"/>
<rect x="1196" y="655" width="1" height="4" fill="#c0c0c0"/>
<rect x="1204" y="654" width="1" height="5" fill="#c0c0c0"/>
</g>
<polyline points="4,659.7 12,659.3 20,658.8 28,657.7 36,657.0 44,655.8 52,654.7 60,653.1 68,652.5 76,652.0 84,652.0 92,652.5 100,653.3 108,654.4 116,655.8 124,657.5 132,659.4 140,661.2 148,662.7 156,664.1 164,665.3 172,666.6 180,668.0 188,669.4 196,670.6 204,671.5 212,672.3 220,672.9 228,673.5 236,673.8 244,674.1 252,674.5 260,675.0 268,675.8 276,676.9 284,678.2 292,679.4 300,680.4 308,681.5 316,682.3 324,682.8 332,682.7 340,682.2 348,681.3 356,680.2 364,679.2 372,678.5 380,677.9 388,677.5 396,677.0 404,676.5 412,676.3 420,675.9 428,675.6 436,675.0 444,674.1 452,673.0 460,671.7 468,670.2 476,669.0 484,668.0 492,667.4 500,667.0 508,666.7 516,666.2 524,665.5 532,664.7 540,664.0 548,663.0 556,661.5 564,659.8 572,657.8 580,655.8 588,653.9 596,652.1 604,650.5 612,649.1 620,647.8 628,646.9 636,646.3 644,645.9 652,646.0 660,646.4 668,647.4 676,648.9 684,650.9 692,653.7 700,656.9 708,660.4 716,664.4 724,669.2 732,674.6 740,680.5 748,686.5 756,692.1 764,696.3 772,699.3 780,701.2 788,702.3 796,701.5 804,698.7 812,693.7 820,686.9 828,679.0 836,671.2 844,663.8 852,656.9 860,650.7 868,646.4 876,644.0 884,643.4 892,644.1 900,645.8 908,647.7 916,649.5 924,651.2 932,651.9 940,652.0 948,651.3 956,650.6 964,650.0 972,649.8 980,649.9 988,650.9 996,652.2 1004,653.7 1012,655.1 1020,656.4 1028,657.4 1036,658.0 1044,658.2 1052,658.2 1060,657.5 1068,656.4 1076,655.4 1084,654.3 1092,653.1 1100,652.2 1108,652.0 1116,652.3 1124,653.1 1132,653.8 1140,654.5 1148,655.1 1156,655.8 1164,656.6 1172,657.0 1180,657.0 1188,656.6 1196,655.9 1204,655.4" fill="none" stroke="#ff0000" stroke-width="1" stroke-dasharray="3,3" shape-rendering="crispEdges"/>
<text x="7.43" y="545" font-size="10.3" fill="#000" stroke="#000" stroke-width="0.25" textLength="68.74" lengthAdjust="spacingAndGlyphs">RSI(14) 54.1082</text>
<line x1="5" y1="560.5" x2="1519" y2="560.5" stroke="#c0c0c0" stroke-width="1" stroke-dasharray="3,3" shape-rendering="crispEdges"/>
<line x1="5" y1="596.5" x2="1519" y2="596.5" stroke="#c0c0c0" stroke-width="1" stroke-dasharray="3,3" shape-rendering="crispEdges"/>
<rect x="1520" y="534" width="1" height="1" fill="#000"/>
<rect x="1520" y="560" width="2" height="1" fill="#000"/>
<rect x="1520" y="596" width="2" height="1" fill="#000"/>
<rect x="1520" y="623" width="2" height="1" fill="#000"/>
<text x="1522.49" y="543" font-size="10.3" fill="#000" stroke="#000" stroke-width="0.25" textLength="15.47" lengthAdjust="spacingAndGlyphs">100</text>
<text x="1521.72" y="564" font-size="10.3" fill="#000" stroke="#000" stroke-width="0.25" textLength="10.34" lengthAdjust="spacingAndGlyphs">70</text>
<text x="1521.85" y="600" font-size="10.3" fill="#000" stroke="#000" stroke-width="0.25" textLength="10.21" lengthAdjust="spacingAndGlyphs">30</text>
<text x="1522.79" y="621" font-size="10.3" fill="#000" stroke="#000" stroke-width="0.25" textLength="5.82" lengthAdjust="spacingAndGlyphs">0</text>
<text x="7.63" y="639" font-size="10.3" fill="#000" stroke="#000" stroke-width="0.25" textLength="148.36" lengthAdjust="spacingAndGlyphs">MACD(12,26,9) 0.000795 0.000615</text>
<rect x="1520" y="628" width="2" height="1" fill="#000"/>
<rect x="1520" y="658" width="2" height="1" fill="#000"/>
<rect x="1520" y="717" width="2" height="1" fill="#000"/>
<text x="1522.82" y="638" font-size="10.3" fill="#000" stroke="#000" stroke-width="0.25" textLength="40.17" lengthAdjust="spacingAndGlyphs">0.005818</text>
<text x="1522.83" y="662" font-size="10.3" fill="#000" stroke="#000" stroke-width="0.25" textLength="18.34" lengthAdjust="spacingAndGlyphs">0.00</text>
<text x="1522.77" y="715" font-size="10.3" fill="#000" stroke="#000" stroke-width="0.25" textLength="43.37" lengthAdjust="spacingAndGlyphs">-0.011514</text>
<rect x="4" y="719" width="1" height="3" fill="#000"/>
<text x="2.51" y="731" font-size="10.3" fill="#000" stroke="#000" stroke-width="0.25" textLength="54.95" lengthAdjust="spacingAndGlyphs">22 Nov 2019</text>
<rect x="68" y="719" width="1" height="3" fill="#000"/>
<text x="66.54" y="731" font-size="10.3" fill="#000" stroke="#000" stroke-width="0.25" textLength="46.90" lengthAdjust="spacingAndGlyphs">2 Dec 2019</text>
<rect x="132" y="719" width="1" height="3" fill="#000"/>
<text x="130.30" y="731" font-size="10.3" fill="#000" stroke="#000" stroke-width="0.25" textLength="52.14" lengthAdjust="spacingAndGlyphs">11 Dec 2019</text>
<rect x="196" y="719" width="1" height="3" fill="#000"/>
<text x="194.54" y="731" font-size="10.3" fill="#000" stroke="#000" stroke-width="0.25" textLength="52.40" lengthAdjust="spacingAndGlyphs">20 Dec 2019</text>
<rect x="260" y="719" width="1" height="3" fill="#000"/>
<text x="258.65" y="731" font-size="10.3" fill="#000" stroke="#000" stroke-width="0.25" textLength="51.78" lengthAdjust="spacingAndGlyphs">30 Dec 2019</text>
<rect x="324" y="719" width="1" height="3" fill="#000"/>
<text x="322.60" y="731" font-size="10.3" fill="#000" stroke="#000" stroke-width="0.25" textLength="45.25" lengthAdjust="spacingAndGlyphs">8 Jan 2020</text>
<rect x="388" y="719" width="1" height="3" fill="#000"/>
<text x="386.29" y="731" font-size="10.3" fill="#000" stroke="#000" stroke-width="0.25" textLength="51.07" lengthAdjust="spacingAndGlyphs">17 Jan 2020</text>
<rect x="452" y="719" width="1" height="3" fill="#000"/>
<text x="450.54" y="731" font-size="10.3" fill="#000" stroke="#000" stroke-width="0.25" textLength="50.32" lengthAdjust="spacingAndGlyphs">27 Jan 2020</text>
<rect x="516" y="719" width="1" height="3" fill="#000"/>
<text x="514.62" y="731" font-size="10.3" fill="#000" stroke="#000" stroke-width="0.25" textLength="47.75" lengthAdjust="spacingAndGlyphs">5 Feb 2020</text>
<rect x="580" y="719" width="1" height="3" fill="#000"/>
<text x="578.29" y="731" font-size="10.3" fill="#000" stroke="#000" stroke-width="0.25" textLength="52.58" lengthAdjust="spacingAndGlyphs">14 Feb 2020</text>
<rect x="644" y="719" width="1" height="3" fill="#000"/>
<text x="642.53" y="731" font-size="10.3" fill="#000" stroke="#000" stroke-width="0.25" textLength="52.08" lengthAdjust="spacingAndGlyphs">24 Feb 2020</text>
<rect x="708" y="719" width="1" height="3" fill="#000"/>
<text x="706.79" y="731" font-size="10.3" fill="#000" stroke="#000" stroke-width="0.25" textLength="47.33" lengthAdjust="spacingAndGlyphs">4 Mar 2020</text>
<rect x="772" y="719" width="1" height="3" fill="#000"/>
<text x="770.29" y="731" font-size="10.3" fill="#000" stroke="#000" stroke-width="0.25" textLength="52.32" lengthAdjust="spacingAndGlyphs">13 Mar 2020</text>
<rect x="836" y="719" width="1" height="3" fill="#000"/>
<text x="834.53" y="731" font-size="10.3" fill="#000" stroke="#000" stroke-width="0.25" textLength="52.59" lengthAdjust="spacingAndGlyphs">23 Mar 2020</text>
<rect x="900" y="719" width="1" height="3" fill="#000"/>
<text x="898.28" y="731" font-size="10.3" fill="#000" stroke="#000" stroke-width="0.25" textLength="46.34" lengthAdjust="spacingAndGlyphs">1 Apr 2020</text>
<rect x="964" y="719" width="1" height="3" fill="#000"/>
<text x="962.28" y="731" font-size="10.3" fill="#000" stroke="#000" stroke-width="0.25" textLength="51.59" lengthAdjust="spacingAndGlyphs">10 Apr 2020</text>
<rect x="1028" y="719" width="1" height="3" fill="#000"/>
<text x="1026.53" y="731" font-size="10.3" fill="#000" stroke="#000" stroke-width="0.25" textLength="51.34" lengthAdjust="spacingAndGlyphs">20 Apr 2020</text>
<rect x="1092" y="719" width="1" height="3" fill="#000"/>
<text x="1090.53" y="731" font-size="10.3" fill="#000" stroke="#000" stroke-width="0.25" textLength="51.34" lengthAdjust="spacingAndGlyphs">29 Apr 2020</text>
<rect x="1156" y="719" width="1" height="3" fill="#000"/>
<text x="1154.58" y="731" font-size="10.3" fill="#000" stroke="#000" stroke-width="0.25" textLength="50.80" lengthAdjust="spacingAndGlyphs">8 May 2020</text>
<rect x="0" y="739" width="1560" height="1" fill="#e3e3e3"/>
<rect x="0" y="741" width="1560" height="23" fill="#f0f0f0"/>
<rect x="0" y="741" width="109" height="1" fill="#000"/>
<rect x="210" y="741" width="1350" height="1" fill="#000"/>
<rect x="110" y="741" width="99" height="18" fill="#fff"/>
<rect x="109" y="741" width="1" height="19" fill="#000"/>
<rect x="209" y="741" width="1" height="19" fill="#000"/>
<rect x="109" y="759" width="101" height="1" fill="#000"/>
<rect x="0" y="742" width="109" height="1" fill="#fafafa"/>
<rect x="210" y="742" width="1350" height="1" fill="#fafafa"/>
<rect x="0" y="761" width="1560" height="1" fill="#ffffff"/>
<rect x="0" y="742" width="1" height="18" fill="#6a6a6a"/>
<rect x="1" y="742" width="1" height="18" fill="#ffffff"/>
<text x="16.52" y="756" font-size="13" fill="#666" stroke="#666" stroke-width="0.05" textLength="80.71" lengthAdjust="spacingAndGlyphs">EURUSD,Daily</text>
<text x="118.28" y="756" font-size="13" fill="#000" stroke="#000" stroke-width="0.05" textLength="79.54" lengthAdjust="spacingAndGlyphs">USDCHF,Daily</text>
<text x="219.98" y="756" font-size="13" fill="#666" stroke="#666" stroke-width="0.05" textLength="81.75" lengthAdjust="spacingAndGlyphs">AUDUSD,Daily</text>
<text x="323.06" y="756" font-size="13" fill="#666" stroke="#666" stroke-width="0.05" textLength="81.96" lengthAdjust="spacingAndGlyphs">USDCAD,Daily</text>
<text x="426.35" y="756" font-size="13" fill="#666" stroke="#666" stroke-width="0.05" textLength="83.68" lengthAdjust="spacingAndGlyphs">USDCNH,Daily</text>
<text x="532.62" y="756" font-size="13" fill="#666" stroke="#666" stroke-width="0.05" textLength="80.61" lengthAdjust="spacingAndGlyphs">EURUSD,Daily</text>
<text x="636.80" y="756" font-size="13" fill="#666" stroke="#666" stroke-width="0.05" textLength="80.63" lengthAdjust="spacingAndGlyphs">GBPUSD,Daily</text>
<text x="740.33" y="756" font-size="13" fill="#666" stroke="#666" stroke-width="0.05" textLength="69.13" lengthAdjust="spacingAndGlyphs">XAUUSD,H4</text>
<text x="831.27" y="756" font-size="13" fill="#666" stroke="#666" stroke-width="0.05" textLength="51.15" lengthAdjust="spacingAndGlyphs">HK50,H1</text>
<text x="903.32" y="756" font-size="13" fill="#666" stroke="#666" stroke-width="0.05" textLength="58.39" lengthAdjust="spacingAndGlyphs">UK100,H1</text>
<text x="983.62" y="756" font-size="13" fill="#666" stroke="#666" stroke-width="0.05" textLength="58.39" lengthAdjust="spacingAndGlyphs">UK100,H1</text>
<text x="1063.70" y="756" font-size="13" fill="#666" stroke="#666" stroke-width="0.05" textLength="57.99" lengthAdjust="spacingAndGlyphs">GER30,H1</text>
<text x="1142.62" y="756" font-size="13" fill="#666" stroke="#666" stroke-width="0.05" textLength="55.56" lengthAdjust="spacingAndGlyphs">FRA40,H1</text>
<text x="1218.74" y="756" font-size="13" fill="#666" stroke="#666" stroke-width="0.05" textLength="51.76" lengthAdjust="spacingAndGlyphs">USOil,H1</text>
<text x="1290.82" y="756" font-size="13" fill="#666" stroke="#666" stroke-width="0.05" textLength="63.04" lengthAdjust="spacingAndGlyphs">USDJPY,H1</text>
<text x="1374.50" y="756" font-size="13" fill="#666" stroke="#666" stroke-width="0.05" textLength="47.60" lengthAdjust="spacingAndGlyphs">DJ30,H1</text>
<rect x="313" y="744" width="1" height="14" fill="#555"/>
<rect x="417" y="744" width="1" height="14" fill="#555"/>
<rect x="521" y="744" width="1" height="14" fill="#555"/>
<rect x="625" y="744" width="1" height="14" fill="#555"/>
<rect x="729" y="744" width="1" height="14" fill="#555"/>
<rect x="822" y="744" width="1" height="14" fill="#555"/>
<rect x="893" y="744" width="1" height="14" fill="#555"/>
<rect x="973" y="744" width="1" height="14" fill="#555"/>
<rect x="1053" y="744" width="1" height="14" fill="#555"/>
<rect x="1133" y="744" width="1" height="14" fill="#555"/>
<rect x="1209" y="744" width="1" height="14" fill="#555"/>
<rect x="1281" y="744" width="1" height="14" fill="#555"/>
<rect x="1365" y="744" width="1" height="14" fill="#555"/>
<rect x="1433" y="744" width="1" height="14" fill="#555"/>
<polygon points="1535,750 1538,747 1538,753" fill="#808080"/>
<polygon points="1554,747 1554,753 1557,750" fill="#808080"/>
</svg>
</body></html>
